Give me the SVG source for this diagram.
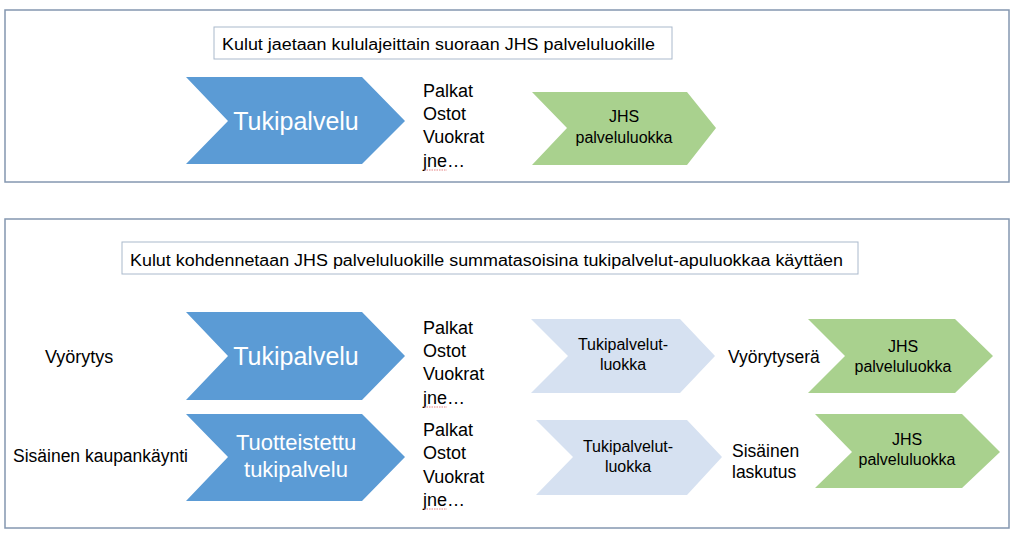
<svg xmlns="http://www.w3.org/2000/svg" width="1023" height="548" viewBox="0 0 1023 548">
<style>
  .frame{fill:#fff;stroke:#8497b0;stroke-width:1.5}
  .tbox{fill:#fff;stroke:#aab9cc;stroke-width:1}
  .blue{fill:#5b9bd5}
  .lblue{fill:#d6e1f1}
  .green{fill:#a9d18e}
  text{font-family:"Liberation Sans",Arial,sans-serif;fill:#000}
  .big{font-size:25px;fill:#fff;text-anchor:middle}
  .mid{font-size:22px;fill:#fff;text-anchor:middle}
  .sm{font-size:16px;text-anchor:middle}
  .lst{font-size:18px}
  .lbl{font-size:17.5px}
  .ttl{font-size:16px}
  .sq{fill:none;stroke:#e06060;stroke-width:0.8;stroke-dasharray:1.5 1}
</style>
<rect width="1023" height="548" fill="#fff"/>
<g id="frame-top"><rect class="frame" x="5" y="10" width="1004" height="172"/></g>
<g id="frame-bottom"><rect class="frame" x="5" y="219" width="1004" height="309"/></g>

<g id="title1">
  <rect class="tbox" x="214" y="27" width="458" height="32"/>
  <text class="ttl" x="222" y="50" textLength="433" lengthAdjust="spacingAndGlyphs">Kulut jaetaan kululajeittain suoraan JHS palveluluokille</text>
</g>
<g id="title2">
  <rect class="tbox" x="122" y="242" width="736" height="32"/>
  <text class="ttl" x="130" y="266" textLength="713" lengthAdjust="spacingAndGlyphs">Kulut kohdennetaan JHS palveluluokille summatasoisina tukipalvelut-apuluokkaa käyttäen</text>
</g>

<g id="tuki1">
  <polygon class="blue" points="186,77 362,77 405,121 362,164 186,164 228,121"/>
  <text class="big" x="296" y="130">Tukipalvelu</text>
</g>
<g id="list1">
  <text class="lst" x="423" y="97">Palkat</text>
  <text class="lst" x="423" y="120">Ostot</text>
  <text class="lst" x="423" y="143">Vuokrat</text>
  <text class="lst" x="423" y="167">jne…</text>
  <path class="sq" d="M424,170 L447,170"/>
</g>
<g id="jhs1">
  <polygon class="green" points="532,92 687,92 716,128 687,165 532,165 567,128"/>
  <text class="sm" x="624" y="122">JHS</text>
  <text class="sm" x="624" y="143">palveluluokka</text>
</g>

<g id="label-vyorytys"><text class="lst" x="45" y="363">Vyörytys</text></g>
<g id="tuki2">
  <polygon class="blue" points="186,312 362,312 405,356 362,400 186,400 228,356"/>
  <text class="big" x="296" y="365">Tukipalvelu</text>
</g>
<g id="list2">
  <text class="lst" x="423" y="334">Palkat</text>
  <text class="lst" x="423" y="357">Ostot</text>
  <text class="lst" x="423" y="380">Vuokrat</text>
  <text class="lst" x="423" y="404">jne…</text>
  <path class="sq" d="M424,407 L447,407"/>
</g>
<g id="apu1">
  <polygon class="lblue" points="531,319 680,319 715,356 680,393 531,393 568,356"/>
  <text class="sm" x="623" y="350">Tukipalvelut-</text>
  <text class="sm" x="623" y="370">luokka</text>
</g>
<g id="label-vyorytysera"><text class="lbl" x="728" y="363">Vyörytyserä</text></g>
<g id="jhs2">
  <polygon class="green" points="808,319 955,319 993,356 955,393 808,393 845,356"/>
  <text class="sm" x="903" y="352">JHS</text>
  <text class="sm" x="903" y="372">palveluluokka</text>
</g>

<g id="label-sisainen-kaupankaynti"><text class="lst" x="13" y="462" textLength="175" lengthAdjust="spacingAndGlyphs">Sisäinen kaupankäynti</text></g>
<g id="tuki3">
  <polygon class="blue" points="186,414 362,414 405,457 362,501 186,501 228,457"/>
  <text class="mid" x="296" y="450">Tuotteistettu</text>
  <text class="mid" x="296" y="477">tukipalvelu</text>
</g>
<g id="list3">
  <text class="lst" x="423" y="436">Palkat</text>
  <text class="lst" x="423" y="459">Ostot</text>
  <text class="lst" x="423" y="483">Vuokrat</text>
  <text class="lst" x="423" y="506">jne…</text>
  <path class="sq" d="M424,509 L447,509"/>
</g>
<g id="apu2">
  <polygon class="lblue" points="536,420 687,420 722,457 687,495 536,495 573,457"/>
  <text class="sm" x="628" y="452">Tukipalvelut-</text>
  <text class="sm" x="628" y="472">luokka</text>
</g>
<g id="label-sisainen-laskutus">
  <text class="lbl" x="732" y="457">Sisäinen</text>
  <text class="lbl" x="732" y="478">laskutus</text>
</g>
<g id="jhs3">
  <polygon class="green" points="815,414 962,414 1000,452 962,488 815,488 852,452"/>
  <text class="sm" x="907" y="445">JHS</text>
  <text class="sm" x="907" y="465">palveluluokka</text>
</g>
<g id="connectors"/>
</svg>
